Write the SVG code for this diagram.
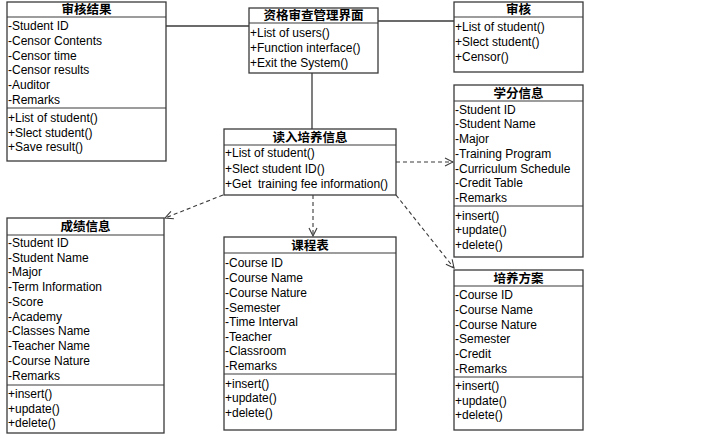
<svg xmlns="http://www.w3.org/2000/svg" width="722" height="437" viewBox="0 0 722 437">
<style>
.box{fill:#fff;stroke:#3a3a3a;stroke-width:1.3}
.sep{stroke:#3a3a3a;stroke-width:1.2}
.t{font-family:"Liberation Sans",Arial,sans-serif;font-size:12px;fill:#000}
.h{font-family:"Noto Sans CJK SC","Liberation Sans",sans-serif;font-size:12.5px;font-weight:bold;fill:#000;text-anchor:middle}
.ln{stroke:#3a3a3a;stroke-width:1.3;fill:none}
.dl{stroke:#3a3a3a;stroke-width:1.1;fill:none;stroke-dasharray:4,3}
</style>
<defs>
<marker id="ar" markerWidth="10" markerHeight="10" refX="9" refY="5" orient="auto" markerUnits="userSpaceOnUse">
<path d="M1,1 L9,5 L1,9" fill="none" stroke="#3a3a3a" stroke-width="1.1"/>
</marker>
</defs>
<g id="connectors">
<line class="ln" x1="166" y1="26" x2="249" y2="26"/>
<line class="ln" x1="378" y1="21" x2="454" y2="21"/>
<line class="ln" x1="312" y1="73" x2="312" y2="129"/>
<line class="dl" x1="396" y1="162" x2="453" y2="162" marker-end="url(#ar)"/>
<line class="dl" x1="313" y1="195" x2="313" y2="236" marker-end="url(#ar)"/>
<line class="dl" x1="223" y1="195" x2="165" y2="218" marker-end="url(#ar)"/>
<line class="dl" x1="396" y1="195" x2="454" y2="268" marker-end="url(#ar)"/>
</g>
<g id="shenhejieguo">
<rect class="box" x="7" y="2" width="159" height="159"/>
<line class="sep" x1="7" y1="17" x2="166" y2="17"/>
<line class="sep" x1="7" y1="108" x2="166" y2="108"/>
<text class="h" x="86.5" y="14">审核结果</text>
<text class="t" x="8" y="30">-Student ID</text>
<text class="t" x="8" y="45">-Censor Contents</text>
<text class="t" x="8" y="60">-Censor time</text>
<text class="t" x="8" y="74">-Censor results</text>
<text class="t" x="8" y="89">-Auditor</text>
<text class="t" x="8" y="104">-Remarks</text>
<text class="t" x="8" y="122">+List of student()</text>
<text class="t" x="8" y="137">+Slect student()</text>
<text class="t" x="8" y="151">+Save result()</text>
</g>
<g id="zigeshencha">
<rect class="box" x="249" y="8" width="129" height="65"/>
<line class="sep" x1="249" y1="23" x2="378" y2="23"/>
<text class="h" x="313.5" y="20">资格审查管理界面</text>
<text class="t" x="250" y="37">+List of users()</text>
<text class="t" x="250" y="52">+Function interface()</text>
<text class="t" x="250" y="67">+Exit the System()</text>
</g>
<g id="shenhe">
<rect class="box" x="454" y="2" width="129" height="70"/>
<line class="sep" x1="454" y1="17" x2="583" y2="17"/>
<text class="h" x="518.5" y="14">审核</text>
<text class="t" x="455" y="31">+List of student()</text>
<text class="t" x="455" y="46">+Slect student()</text>
<text class="t" x="455" y="61">+Censor()</text>
</g>
<g id="xuefenxinxi">
<rect class="box" x="454" y="85" width="129" height="172"/>
<line class="sep" x1="454" y1="101" x2="583" y2="101"/>
<line class="sep" x1="454" y1="206" x2="583" y2="206"/>
<text class="h" x="518.5" y="98">学分信息</text>
<text class="t" x="455" y="113.5">-Student ID</text>
<text class="t" x="455" y="128">-Student Name</text>
<text class="t" x="455" y="143">-Major</text>
<text class="t" x="455" y="158">-Training Program</text>
<text class="t" x="455" y="173">-Curriculum Schedule</text>
<text class="t" x="455" y="187">-Credit Table</text>
<text class="t" x="455" y="202">-Remarks</text>
<text class="t" x="455" y="220">+insert()</text>
<text class="t" x="455" y="234">+update()</text>
<text class="t" x="455" y="249">+delete()</text>
</g>
<g id="duru">
<rect class="box" x="224" y="129" width="172" height="66"/>
<line class="sep" x1="224" y1="145" x2="396" y2="145"/>
<text class="h" x="310" y="142">读入培养信息</text>
<text class="t" x="225" y="157">+List of student()</text>
<text class="t" x="225" y="173">+Slect student ID()</text>
<text class="t" x="225" y="188">+Get&#160; training fee information()</text>
</g>
<g id="chengji">
<rect class="box" x="7" y="218" width="157" height="215"/>
<line class="sep" x1="7" y1="235" x2="164" y2="235"/>
<line class="sep" x1="7" y1="385" x2="164" y2="385"/>
<text class="h" x="85.5" y="231">成绩信息</text>
<text class="t" x="8" y="247">-Student ID</text>
<text class="t" x="8" y="262">-Student Name</text>
<text class="t" x="8" y="276">-Major</text>
<text class="t" x="8" y="291">-Term Information</text>
<text class="t" x="8" y="306">-Score</text>
<text class="t" x="8" y="321">-Academy</text>
<text class="t" x="8" y="335">-Classes Name</text>
<text class="t" x="8" y="350">-Teacher Name</text>
<text class="t" x="8" y="365">-Course Nature</text>
<text class="t" x="8" y="380">-Remarks</text>
<text class="t" x="8" y="398">+insert()</text>
<text class="t" x="8" y="413">+update()</text>
<text class="t" x="8" y="427">+delete()</text>
</g>
<g id="kechengbiao">
<rect class="box" x="224" y="237" width="172" height="193"/>
<line class="sep" x1="224" y1="253" x2="396" y2="253"/>
<line class="sep" x1="224" y1="374" x2="396" y2="374"/>
<text class="h" x="310" y="250">课程表</text>
<text class="t" x="225" y="267">-Course ID</text>
<text class="t" x="225" y="282">-Course Name</text>
<text class="t" x="225" y="297">-Course Nature</text>
<text class="t" x="225" y="312">-Semester</text>
<text class="t" x="225" y="326">-Time Interval</text>
<text class="t" x="225" y="341">-Teacher</text>
<text class="t" x="225" y="355">-Classroom</text>
<text class="t" x="225" y="370">-Remarks</text>
<text class="t" x="225" y="388">+insert()</text>
<text class="t" x="225" y="402">+update()</text>
<text class="t" x="225" y="417">+delete()</text>
</g>
<g id="peiyangfangan">
<rect class="box" x="454" y="270" width="129" height="160"/>
<line class="sep" x1="454" y1="286" x2="583" y2="286"/>
<line class="sep" x1="454" y1="377" x2="583" y2="377"/>
<text class="h" x="518.5" y="283">培养方案</text>
<text class="t" x="455" y="299">-Course ID</text>
<text class="t" x="455" y="314">-Course Name</text>
<text class="t" x="455" y="329">-Course Nature</text>
<text class="t" x="455" y="343">-Semester</text>
<text class="t" x="455" y="358">-Credit</text>
<text class="t" x="455" y="373">-Remarks</text>
<text class="t" x="455" y="390">+insert()</text>
<text class="t" x="455" y="405">+update()</text>
<text class="t" x="455" y="419">+delete()</text>
</g>
</svg>
